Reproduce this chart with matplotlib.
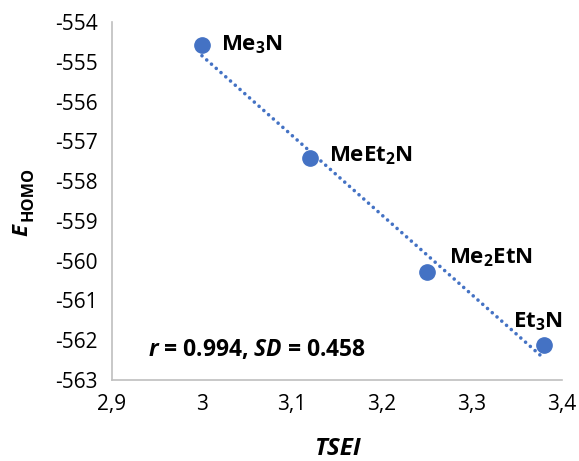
import numpy as np
import matplotlib.pyplot as plt
from matplotlib.ticker import FuncFormatter

plt.rcParams['font.family'] = ['Open Sans', 'DejaVu Sans']
plt.rcParams['mathtext.fontset'] = 'custom'
plt.rcParams['mathtext.rm'] = 'Open Sans:bold'
plt.rcParams['mathtext.it'] = 'Open Sans:bold:italic'
plt.rcParams['mathtext.bf'] = 'Open Sans:bold'

# data
tsei = [3.00, 3.12, 3.25, 3.38]
e_homo = [-554.58, -557.43, -560.28, -562.12]
names = ['Me$_3$N', 'MeEt$_2$N', 'Me$_2$EtN', 'Et$_3$N']
label_offsets = [(14, 0), (14, 2), (16, 10), (-22, 17)]

blue = '#4472C4'

fig = plt.figure(figsize=(5.79, 4.61), dpi=100)
ax = fig.add_axes([0.1934, 0.1757, 0.777, 0.7766])

# linear trendline through the points
k, b = np.polyfit(tsei, e_homo, 1)
xs = np.array([tsei[0], tsei[-1]])
ax.plot(xs, k * xs + b, color=blue, lw=2.6, linestyle=(0, (0.01, 1.75)),
        dash_capstyle='round', zorder=2)
ax.plot(tsei, e_homo, 'o', color=blue, markersize=11, zorder=3)

for x, y, name, off in zip(tsei, e_homo, names, label_offsets):
    ax.annotate(name, (x, y), xytext=off, textcoords='offset points',
                ha='left', va='center', fontsize=16, fontweight='bold')

ax.text(2.94, -562.25, r'$\it{r}$ = 0.994, $\it{SD}$ = 0.458',
        fontsize=16.5, fontweight='bold', va='center', ha='left')

ax.set_xlim(2.9, 3.4)
ax.set_ylim(-563, -554)
ax.set_xticks(np.arange(2.9, 3.41, 0.1))
ax.set_yticks(np.arange(-563, -553, 1))
ax.xaxis.set_major_formatter(FuncFormatter(lambda v, p: f'{v:g}'.replace('.', ',')))
ax.yaxis.set_major_formatter(FuncFormatter(lambda v, p: f'{v:.0f}'))
ax.tick_params(length=0, labelsize=15, pad=10)

for s in ['top', 'right']:
    ax.spines[s].set_visible(False)
for s in ['left', 'bottom']:
    ax.spines[s].set_color('#bfbfbf')
    ax.spines[s].set_linewidth(1.2)

ax.set_xlabel('TSEI', fontsize=17.5, fontweight='bold', fontstyle='italic', labelpad=16)

# y label: E with a full-size-ish subscript HOMO
fig.text(27 / 579, 1 - 236 / 461, 'E', rotation=90, rotation_mode='anchor',
         ha='left', va='baseline', fontsize=16, fontweight='bold', fontstyle='italic')
fig.text(33 / 579, 1 - 221 / 461, 'HOMO', rotation=90, rotation_mode='anchor',
         ha='left', va='baseline', fontsize=11.7, fontweight='bold')

fig.savefig('out.png', dpi=100)
